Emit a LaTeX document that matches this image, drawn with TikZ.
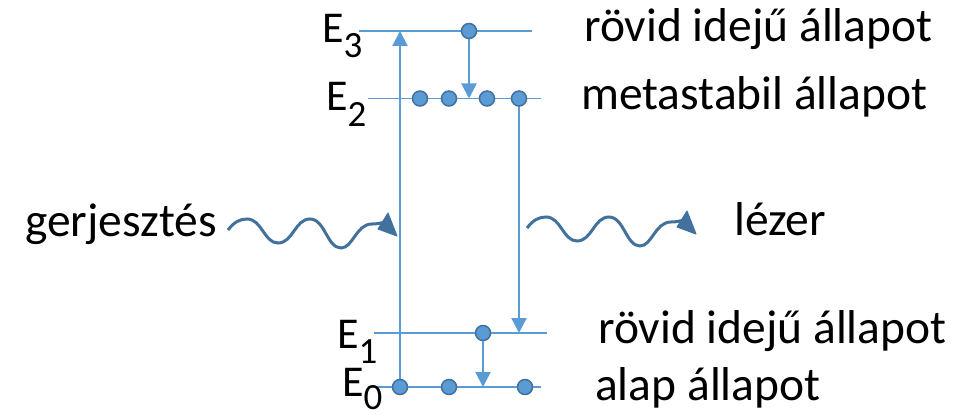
\documentclass[tikz,border=0pt]{standalone}
\usepackage{fontspec}
\setmainfont{Carlito}
\usetikzlibrary{arrows.meta}
\definecolor{lvl}{HTML}{5B9BD5}
\definecolor{dk}{HTML}{41719C}
\newcommand\esub[1]{\raisebox{-15pt}{\fontsize{37}{40}\selectfont #1}}
\begin{document}
\begin{tikzpicture}[x=1pt,y=-1pt,
  level/.style={draw=lvl,line width=1.3pt},
  trans/.style={draw=lvl,line width=2.2pt,-{Triangle[length=15pt,width=15pt]}},
  dot/.style={circle,fill=lvl,draw=dk,line width=1.5pt,inner sep=0pt,minimum size=15pt},
  wave/.style={draw=dk,line width=3pt},
  lbl/.style={inner sep=0pt,anchor=base west,font=\fontsize{47.5}{52}\selectfont},
  elbl/.style={inner sep=0pt,anchor=base west,font=\fontsize{44}{48}\selectfont},
  photon/.pic={\draw[wave] (0,0) .. controls (6,-8) and (12,-11) .. (19,-11)
      .. controls (34,-11) and (36,13) .. (50,13)
      .. controls (65,13) and (67,-11) .. (82,-11)
      .. controls (97,-11) and (99,18) .. (113,18)
      .. controls (125,18) and (128,-6) .. (144,-6)
      .. controls (149,-6) and (153,-7) .. (157,-8);
    \fill[dk,draw=dk,line width=1pt,line join=round] (160,-17) -- (169,6) -- (150,-1) -- cycle;}
]
\useasboundingbox (0,0) rectangle (979,417);
% level end points
\coordinate (l3a) at (359,31);   \coordinate (l3b) at (532,31);
\coordinate (l2a) at (368,98.5); \coordinate (l2b) at (541,98.5);
\coordinate (l1a) at (374,333);  \coordinate (l1b) at (547,333);
\coordinate (l0a) at (368,387);  \coordinate (l0b) at (541,387);
\draw[level] (l3a) -- (l3b);
\draw[level] (l2a) -- (l2b);
\draw[level] (l1a) -- (l1b);
\draw[level] (l0a) -- (l0b);
% arrow targets
\coordinate (u3) at (400,31);
\coordinate (a2) at (469,98.5);
\coordinate (a1) at (519,333);
\coordinate (a0) at (483,387);
% dot positions
\coordinate (p3) at (469,31);
\coordinate (p2d) at (519,98.5);
\coordinate (p1) at (483,333);
\coordinate (p0a) at (400,387);
\draw[trans] (p0a) -- (u3);
\draw[trans] (p3) -- (a2);
\draw[trans] (p2d) -- (a1);
\draw[trans] (p1) -- (a0);
\node[dot] (d3) at (p3) {};
\node[dot] (d2a) at (420,98.5) {};
\node[dot] (d2b) at (449,98.5) {};
\node[dot] (d2c) at (487,98.5) {};
\node[dot] (d2d) at (p2d) {};
\node[dot] (d1) at (p1) {};
\node[dot] (d0a) at (p0a) {};
\node[dot] (d0b) at (449,387) {};
\node[dot] (d0c) at (525,387) {};
% energy labels
\node[elbl] (e3) at (322,43) {E\esub{3}};
\node[elbl] (e2) at (326,111) {E\esub{2}};
\node[elbl] (e1) at (337,348) {E\esub{1}};
\node[elbl] (e0) at (342,396) {E\raisebox{-13pt}{\fontsize{37}{40}\selectfont 0}};
% state labels
\node[lbl] (t3) at (584,42) {rövid idejű állapot};
\node[lbl] (t2) at (581,110) {metastabil állapot};
\node[lbl] (t1) at (598,343) {rövid idejű állapot};
\node[lbl] (t0) at (595,400) {alap állapot};
\node[lbl] (tg) at (25,236) {gerjesztés};
\node[lbl] (tl) at (734,235) {lézer};
% photons
\pic at (228,230) {photon};
\pic at (527,228) {photon};
\end{tikzpicture}
\end{document}
